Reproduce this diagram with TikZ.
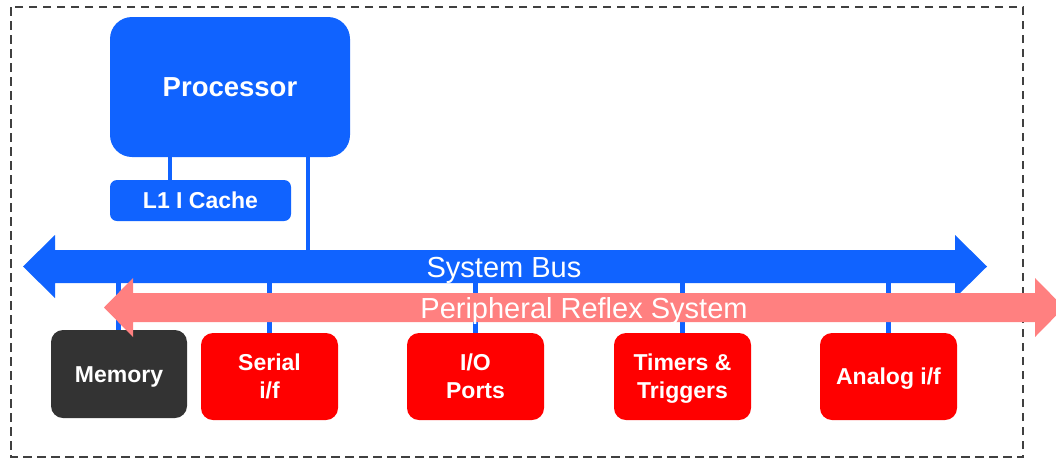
\documentclass[tikz,border=0pt]{standalone}
\usepackage{fontspec}
\setmainfont{Liberation Sans}
\usetikzlibrary{backgrounds}
\definecolor{cpublue}{RGB}{16,99,255}
\definecolor{prspink}{RGB}{255,128,128}
\definecolor{perired}{RGB}{255,0,0}
\definecolor{memgrey}{RGB}{51,51,51}
\definecolor{frame}{RGB}{64,64,64}
\begin{document}
\begin{tikzpicture}[x=1pt,y=-1pt,
  blk/.style={rounded corners=12pt, inner sep=0pt, text=white, align=center,
    font=\bfseries\fontsize{23}{28}\selectfont, text height=16.5pt, text depth=0pt},
  twoline/.style={text height=44.5pt, text depth=0pt},
  peri/.style={blk, fill=perired, minimum width=137pt, minimum height=87pt},
  link/.style={draw=cpublue, line width=4.5pt},
  lbl/.style={text=white, inner sep=0pt, font=\fontsize{29}{32}\selectfont,
    text height=20.8pt, text depth=0pt}]
\useasboundingbox (0,0) rectangle (1056,461);
\clip (0,0) rectangle (1056,461);

% processor and its instruction cache
\node[blk, fill=cpublue, rounded corners=22pt, minimum width=240pt, minimum height=140pt,
  font=\bfseries\fontsize{27.5}{32}\selectfont, text height=19.7pt] (cpu) at (230,87) {Processor};
\node[blk, fill=cpublue, rounded corners=7pt, minimum width=181pt, minimum height=41pt] (l1) at (200.5,200.5) {L1 I Cache};

% bus attachment points
\coordinate (busA) at (308,252);
\coordinate (busMem) at (118.5,281);
\coordinate (busSer) at (269.5,281);
\coordinate (busIO) at (475.5,281);
\coordinate (busTim) at (682.5,281);
\coordinate (busAna) at (888.5,281);

% peripheral blocks
\node[blk, fill=memgrey, minimum width=136pt, minimum height=88pt] (mem) at (119,374) {Memory};
\node[peri, twoline] (ser) at (269.5,376.5) {Serial\\i/f};
\node[peri, twoline] (io)  at (475.5,376.5) {I/O\\Ports};
\node[peri, twoline] (tim) at (682.5,376.5) {Timers \&\\Triggers};
\node[peri] (ana) at (888.5,376.5) {Analog i/f};

\begin{scope}[on background layer]
  % chip outline
  \draw[frame, line width=2.5pt, dash pattern=on 8.5pt off 5.5pt] (11,7) rectangle (1023,457);

  % connections
  \draw[link] (cpu.south -| 170,0) -- (l1.north -| 170,0);
  \draw[link] (cpu.south -| busA) -- (busA);
  \draw[link] (busMem) -- (mem.north -| busMem);
  \draw[link] (busSer) -- (ser.north);
  \draw[link] (busIO) -- (io.north);
  \draw[link] (busTim) -- (tim.north);
  \draw[link] (busAna) -- (ana.north);

  % system bus
  \fill[cpublue] (23,266.5) -- (55,235) -- (55,250) -- (955,250) -- (955,235) -- (987,266.5)
    -- (955,298) -- (955,283) -- (55,283) -- (55,298) -- cycle;
\end{scope}

% peripheral reflex system, lying over the bus taps and the memory block
\fill[prspink] (104,307.5) -- (133,278) -- (133,293) -- (1035,293) -- (1035,278) -- (1064,307.5)
  -- (1035,337) -- (1035,322) -- (133,322) -- (133,337) -- cycle;

\node[lbl] (sysbus) at (504,267) {System Bus};
\node[lbl] (prs) at (584,308) {Peripheral Reflex System};
\end{tikzpicture}
\end{document}
